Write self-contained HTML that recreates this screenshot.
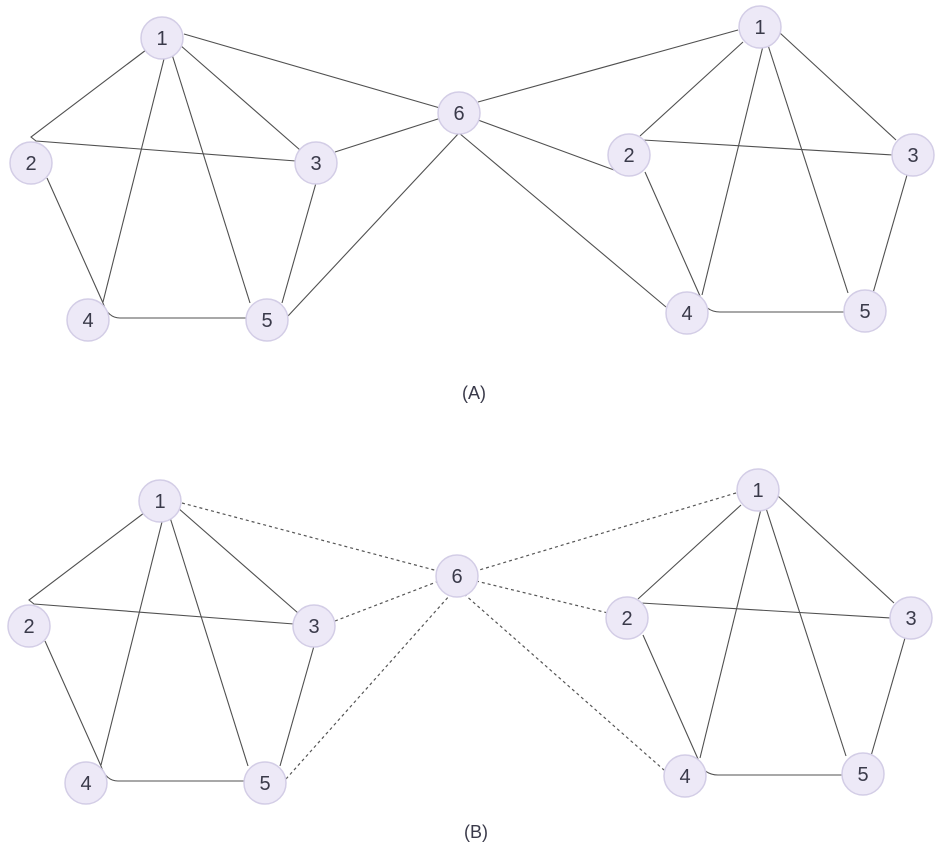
<!DOCTYPE html>
<html><head><meta charset="utf-8"><style>
html,body{margin:0;padding:0;background:#fff;}
svg{display:block}
text{font-family:"Liberation Sans","DejaVu Sans",sans-serif;fill:#3a3a4a;}
</style></head><body>
<svg width="939" height="862" viewBox="0 0 939 862" xmlns="http://www.w3.org/2000/svg">
<g id="A">
 <g fill="none" stroke="#505050" stroke-width="1.1">
  <path d="M146,50 L31,137 L36,141 L296,161"/>
  <path d="M47,178 L103,303 Q108,318 120,318 L247,318"/>
  <path d="M167,47 L103,302"/>
  <path d="M170,48 L250,303"/>
  <path d="M180,45 L300,150"/>
  <path d="M316,183 L282,303"/>
  <path d="M288,316 L459,133"/>
  <path d="M184,34 L440,108 Q470,115 478,120 L614,170"/>
  <path d="M335,152 L441,118"/>
  <path d="M738,30 L478,102"/>
  <path d="M743,42 L640,136"/>
  <path d="M643,140 L893,155"/>
  <path d="M764,42 L702,295"/>
  <path d="M767,42 L848,293"/>
  <path d="M780,33 L896,140"/>
  <path d="M907,175 L873,293"/>
  <path d="M645,172 L700,296 Q705,312 720,312 L844,312"/>
  <path d="M459,133 L666,307"/>
 </g>
</g>
<g fill="#ede9f7" stroke="#d3cde6" stroke-width="1.5">
  <circle cx="162" cy="38" r="21"/><circle cx="31" cy="163" r="21"/><circle cx="316" cy="163" r="21"/>
  <circle cx="88" cy="320" r="21"/><circle cx="267" cy="320" r="21"/><circle cx="459" cy="113" r="21"/>
  <circle cx="760" cy="27" r="21"/><circle cx="629" cy="155" r="21"/><circle cx="913" cy="155" r="21"/>
  <circle cx="687" cy="313" r="21"/><circle cx="865" cy="311" r="21"/>
</g>
<g font-size="20" text-anchor="middle">
  <text x="162" y="45">1</text><text x="31" y="170">2</text><text x="316" y="170">3</text>
  <text x="88" y="327">4</text><text x="267" y="327">5</text><text x="459" y="120">6</text>
  <text x="760" y="34">1</text><text x="629" y="162">2</text><text x="913" y="162">3</text>
  <text x="687" y="320">4</text><text x="865" y="318">5</text>
  <text x="474" y="399" font-size="18">(A)</text>
</g>

<g transform="translate(-2,463)">
 <g fill="none" stroke="#505050" stroke-width="1.1">
  <path d="M146,50 L31,137 L36,141 L296,161"/>
  <path d="M47,178 L103,303 Q108,318 120,318 L247,318"/>
  <path d="M167,47 L103,302"/>
  <path d="M170,48 L250,303"/>
  <path d="M180,45 L300,150"/>
  <path d="M316,183 L282,303"/>
  <path d="M743,42 L640,136"/>
  <path d="M643,140 L893,155"/>
  <path d="M764,42 L702,295"/>
  <path d="M767,42 L848,293"/>
  <path d="M780,33 L896,140"/>
  <path d="M907,175 L873,293"/>
  <path d="M645,172 L700,296 Q705,312 720,312 L844,312"/>
 </g>
 <g fill="none" stroke="#555" stroke-width="1.2" stroke-dasharray="3,3">
  <path d="M184,40 L440,108"/>
  <path d="M337,158 L441,118"/>
  <path d="M288,316 L452,132"/>
  <path d="M738,30 L478,108"/>
  <path d="M478,118 L610,150"/>
  <path d="M466,131 L666,307"/>
 </g>
 <g fill="#ede9f7" stroke="#d3cde6" stroke-width="1.5">
  <circle cx="162" cy="38" r="21"/><circle cx="31" cy="163" r="21"/><circle cx="316" cy="163" r="21"/>
  <circle cx="88" cy="320" r="21"/><circle cx="267" cy="320" r="21"/><circle cx="459" cy="113" r="21"/>
  <circle cx="760" cy="27" r="21"/><circle cx="629" cy="155" r="21"/><circle cx="913" cy="155" r="21"/>
  <circle cx="687" cy="313" r="21"/><circle cx="865" cy="311" r="21"/>
 </g>
 <g font-size="20" text-anchor="middle">
  <text x="162" y="45">1</text><text x="31" y="170">2</text><text x="316" y="170">3</text>
  <text x="88" y="327">4</text><text x="267" y="327">5</text><text x="459" y="120">6</text>
  <text x="760" y="34">1</text><text x="629" y="162">2</text><text x="913" y="162">3</text>
  <text x="687" y="320">4</text><text x="865" y="318">5</text>
  <text x="478" y="375" font-size="18">(B)</text>
 </g>
</g>
</svg>
</body></html>
